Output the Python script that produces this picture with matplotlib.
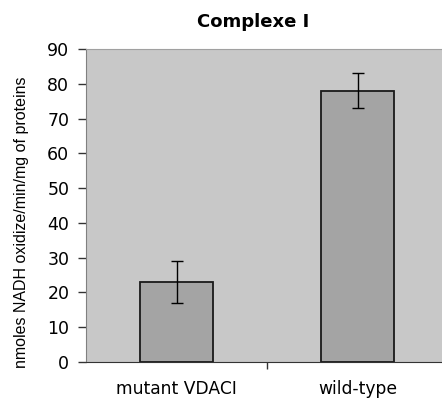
import matplotlib
matplotlib.use("Agg")
import matplotlib.pyplot as plt

categories = ["mutant VDACI", "wild-type"]
values = [23, 78]
errors = [6, 5]
yticks = [0, 10, 20, 30, 40, 50, 60, 70, 80, 90]

fig = plt.figure(figsize=(4.42, 3.98), dpi=100)
# plot area runs past the right edge of the picture, like the original
ax = fig.add_axes([86 / 442, 36 / 398, 362 / 442, 313 / 398])
ax.set_facecolor("#c8c8c8")

x = list(range(len(categories)))
ax.bar(x, values, width=0.4, color="#a4a4a4", edgecolor="#1a1a1a", linewidth=1.3, zorder=2)
ax.errorbar(x, values, yerr=errors, fmt="none", ecolor="black", elinewidth=1,
            capsize=4, capthick=1, zorder=3)

ax.set_xlim(-0.5, 1.5)
ax.set_ylim(0, 90)
ax.set_yticks(yticks)
ax.set_xticks([0.5])
ax.set_xticklabels([""])
ax.tick_params(axis="x", length=5, width=1, color="#333333")
ax.tick_params(axis="y", length=6, width=1, color="#333333", labelsize=12.5, pad=6)

for i, c in enumerate(categories):
    ax.text(i, -5.2, c, ha="center", va="top", fontsize=12.3)

ax.spines["right"].set_visible(False)
ax.spines["top"].set_color("#a0a0a0")
ax.spines["left"].set_color("#808080")
ax.spines["bottom"].set_color("#333333")

fig.text(22 / 442, 1 - 222 / 398, "nmoles NADH oxidize/min/mg of proteins", fontsize=11.5,
         family="Liberation Sans", rotation=90, ha="center", va="center")
fig.text(253 / 442, 1 - 22 / 398, "Complexe I", ha="center", va="center",
         fontsize=13, fontweight="bold")

fig.savefig("out.png", dpi=100)
